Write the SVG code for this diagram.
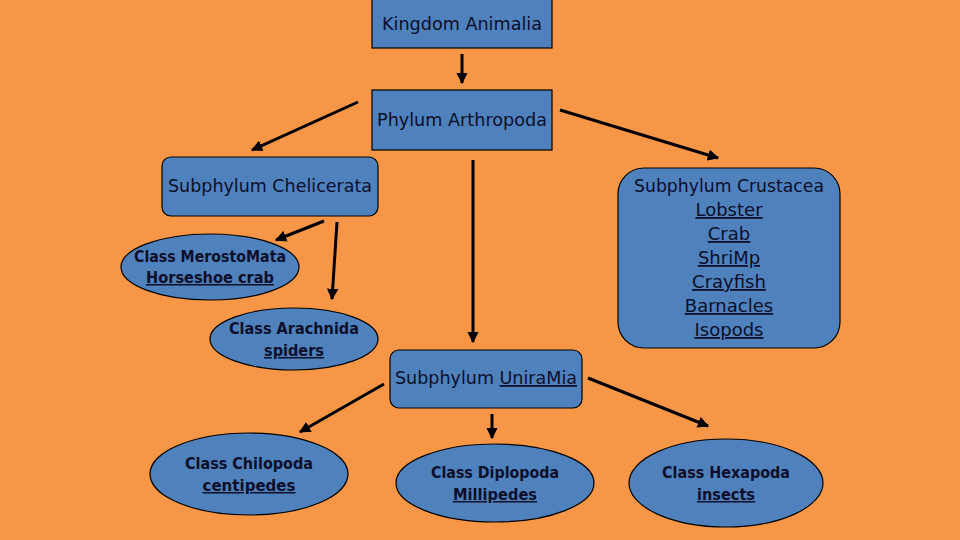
<svg xmlns="http://www.w3.org/2000/svg" width="960" height="540" viewBox="0 0 960 540">
<defs>
<marker id="ah" viewBox="0 0 10 10" refX="9" refY="5" markerWidth="3.8" markerHeight="3.8" orient="auto" markerUnits="strokeWidth">
<path d="M0,0 L10,5 L0,10 z" fill="#000"/>
</marker>
<style>
.n{fill:#4F81BD;stroke:#000;stroke-width:1.2}
.t{font-family:"DejaVu Sans",sans-serif;font-size:18px;fill:#0c0f2a;text-anchor:middle}
.b{font-family:"DejaVu Sans",sans-serif;font-size:15px;font-weight:bold;fill:#0c0f2a;text-anchor:middle}
.u{text-decoration:underline}
.c{stroke:#000;stroke-width:3;fill:none;marker-end:url(#ah)}
</style>
</defs>
<rect width="960" height="540" fill="#F79646"/>
<g id="connectors">
<line class="c" x1="462" y1="54" x2="462" y2="83"/>
<line class="c" x1="358" y1="102" x2="252" y2="150"/>
<line class="c" x1="560" y1="110" x2="718" y2="158"/>
<line class="c" x1="473" y1="160" x2="473" y2="342"/>
<line class="c" x1="324" y1="221" x2="276" y2="240"/>
<line class="c" x1="337" y1="222" x2="332" y2="299"/>
<line class="c" x1="384" y1="384" x2="300" y2="432"/>
<line class="c" x1="492" y1="414" x2="492" y2="438"/>
<line class="c" x1="588" y1="378" x2="708" y2="426"/>
</g>
<g id="kingdom">
<rect class="n" x="372" y="-1" width="180" height="49"/>
<text class="t" x="462" y="30" textLength="160" lengthAdjust="spacingAndGlyphs">Kingdom Animalia</text>
</g>
<g id="phylum">
<rect class="n" x="372" y="90" width="180" height="60"/>
<text class="t" x="462" y="126" textLength="170" lengthAdjust="spacingAndGlyphs">Phylum Arthropoda</text>
</g>
<g id="chelicerata">
<rect class="n" x="162" y="157" width="216" height="59" rx="9"/>
<text class="t" x="270" y="192" textLength="204" lengthAdjust="spacingAndGlyphs">Subphylum Chelicerata</text>
</g>
<g id="merostomata">
<ellipse class="n" cx="210" cy="267" rx="89" ry="33"/>
<text class="b" x="210" y="262" textLength="152" lengthAdjust="spacingAndGlyphs">Class MerostoMata</text>
<text class="b u" x="210" y="283" textLength="128" lengthAdjust="spacingAndGlyphs">Horseshoe crab</text>
</g>
<g id="arachnida">
<ellipse class="n" cx="294" cy="339" rx="84" ry="31"/>
<text class="b" x="294" y="334" textLength="130" lengthAdjust="spacingAndGlyphs">Class Arachnida</text>
<text class="b u" x="294" y="356" textLength="60" lengthAdjust="spacingAndGlyphs">spiders</text>
</g>
<g id="crustacea">
<rect class="n" x="618" y="168" width="222" height="180" rx="26"/>
<text class="t" x="729" y="192" textLength="190" lengthAdjust="spacingAndGlyphs">Subphylum Crustacea</text>
<text class="t u" x="729" y="216">Lobster</text>
<text class="t u" x="729" y="240">Crab</text>
<text class="t u" x="729" y="264">ShriMp</text>
<text class="t u" x="729" y="288">Crayfish</text>
<text class="t u" x="729" y="312">Barnacles</text>
<text class="t u" x="729" y="336">Isopods</text>
</g>
<g id="uniramia">
<rect class="n" x="390" y="350" width="192" height="58" rx="9"/>
<text class="t" x="486" y="384" textLength="182" lengthAdjust="spacingAndGlyphs">Subphylum <tspan class="u">UniraMia</tspan></text>
</g>
<g id="chilopoda">
<ellipse class="n" cx="249" cy="474" rx="99" ry="41"/>
<text class="b" x="249" y="469" textLength="128" lengthAdjust="spacingAndGlyphs">Class Chilopoda</text>
<text class="b u" x="249" y="491" textLength="93" lengthAdjust="spacingAndGlyphs">centipedes</text>
</g>
<g id="diplopoda">
<ellipse class="n" cx="495" cy="483" rx="99" ry="39"/>
<text class="b" x="495" y="478" textLength="128" lengthAdjust="spacingAndGlyphs">Class Diplopoda</text>
<text class="b u" x="495" y="500" textLength="84" lengthAdjust="spacingAndGlyphs">Millipedes</text>
</g>
<g id="hexapoda">
<ellipse class="n" cx="726" cy="483" rx="97" ry="44"/>
<text class="b" x="726" y="478" textLength="128" lengthAdjust="spacingAndGlyphs">Class Hexapoda</text>
<text class="b u" x="726" y="500" textLength="58" lengthAdjust="spacingAndGlyphs">insects</text>
</g>
</svg>
